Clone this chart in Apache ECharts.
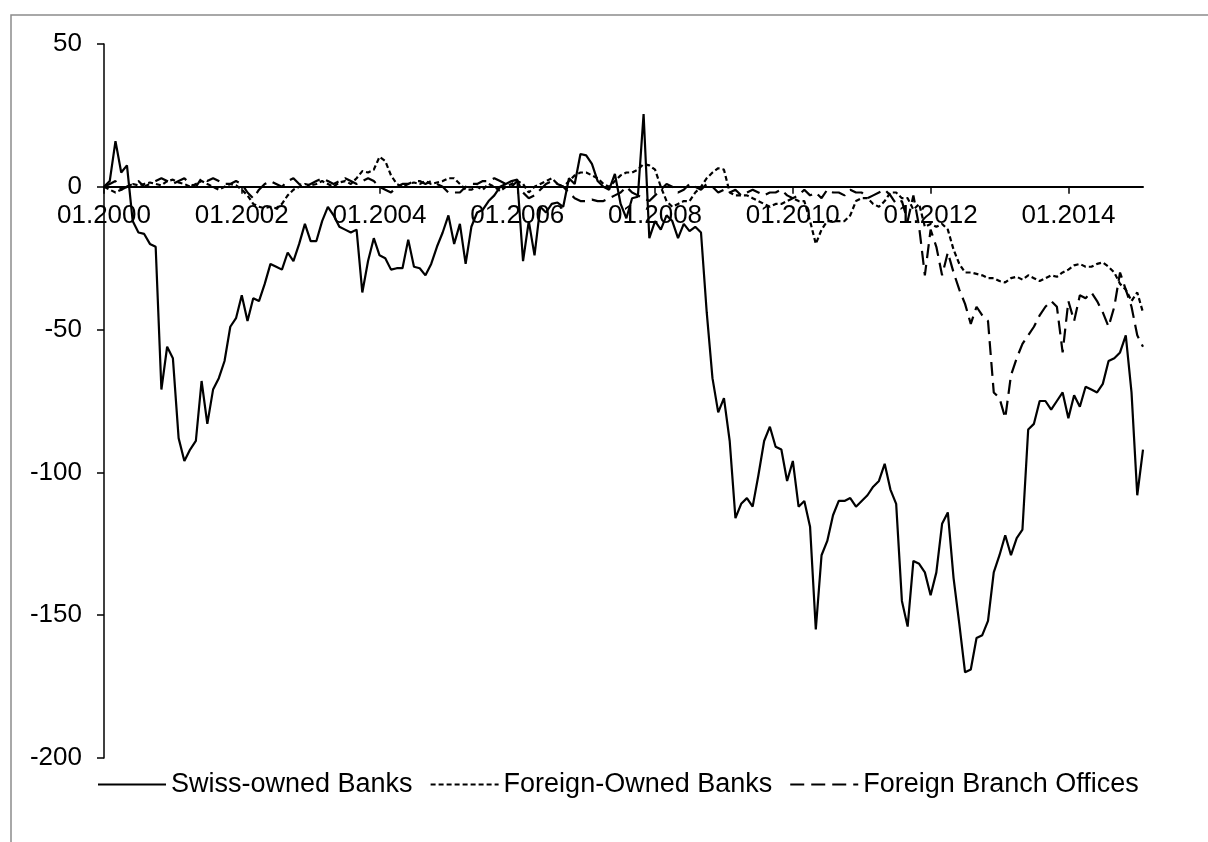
<!DOCTYPE html>
<html>
<head>
<meta charset="utf-8">
<script src="https://cdn.jsdelivr.net/npm/echarts/dist/echarts.min.js"></script>
<style>
html,body{margin:0;padding:0;background:#fff;}
#c{width:1208px;height:842px;}
</style>
</head>
<body>
<div id="c"></div>
<script>
// Monthly categories 01.2000 .. 02.2015
const startYear = 2000;
const months = [];
for (let i = 0; i < 182; i++) {
  const y = startYear + Math.floor(i / 12);
  const m = (i % 12) + 1;
  months.push((m < 10 ? '0' + m : '' + m) + '.' + y);
}

const swissOwned = [
  0, 2, 16, 5, 7.5, -12, -16, -16.5, -20, -21, -71, -56,
  -60, -88, -96, -92, -89, -68, -83, -71, -67, -61, -49, -46,
  -38, -47, -39, -40, -34, -27, -28, -29, -23, -26, -20, -13,
  -19, -19, -12, -7, -10, -14, -15, -16, -15, -37, -26, -18,
  -24, -25, -29, -28.5, -28.5, -18.5, -28, -28.5, -31, -27, -21, -16,
  -10, -20, -13, -27, -14, -9, -8, -5, -3, 0, 1, 2,
  2.5, -26, -12, -24, -7, -9, -6, -5.5, -7, 3, 1, 11.5,
  11, 8, 2, 0, -1, 4.5, -6, -11, -4, -3.5, 25.5, -18,
  -12, -15, -10, -12, -18, -13, -15.5, -14, -16, -44, -67, -79,
  -74, -89, -116, -111, -109, -112, -101, -89, -84, -91, -92, -103,
  -96, -112, -110, -119, -155, -129, -124, -115, -110, -110, -109, -112,
  -110, -108, -105, -103, -97, -106, -111, -145, -154, -131, -132, -135,
  -143, -135, -118, -114, -137, -153, -170, -169, -158, -157, -152, -135,
  -129, -122, -129, -123, -120, -85, -83, -75, -75, -78, -75, -72,
  -81, -73, -77, -70, -71, -72, -69, -61, -60, -58, -52, -72,
  -108, -92
];

const foreignOwned = [
  0, -1, -2, -1, 0, 1, 0.5, 1, 1.5, 1, 0.5, 2,
  2.5, 1.5, 1, 0, 1, 2, 1, 0, -1, 0, 1, 0.5,
  -1, -3, -6, -7, -7.5, -7, -7.5, -6, -3, -1, 0, 1,
  0.5, 1, 2, 1, 0, 1.5, 2, 1, 3, 5.5, 5, 6,
  10.5, 9, 4, 1, 0, 1, 1.5, 1, 2, 1, 1.5, 2,
  3, 3, 1, -1, -1, 0, -1, 1, 0, -1.5, 0, 1,
  2, 1, -2, 0, 1, 2, 3, 1, 0, 2, 4, 5,
  5, 4, 3, 1, 0, 2, 4, 5, 5, 6, 8, 7.5,
  6, 0, -5, -7, -6, -5, -5, -2, 0, 3, 5, 6.5,
  6, -2, -3, -3, -3, -4, -5, -6, -7, -6, -6, -5,
  -4, -5, -5, -12, -20, -15, -12, -12, -12, -12, -10, -5,
  -4, -4, -6, -7, -5, -2, -2, -4, -4, -8, -6, -14,
  -13, -14, -13, -15, -22, -27, -30, -30, -30.5, -31, -32, -32,
  -33, -33.5, -32, -31.5, -32.5, -31, -32, -33, -32, -31, -31.5, -30,
  -29, -27.5, -27, -28, -28, -27, -26.5, -28, -30, -34, -36, -40,
  -37, -44
];

const foreignBranch = [
  0, 1, 2, -1, 0, 1, 2, 0, 1, 2, 3, 2,
  1, 2, 3, 1, 0, 3, 2, 3, 2, 1, 1, 2,
  1, -2, -4, -1, 1, 2, 1, 0, 2, 3, 1, 0,
  1, 2, 3, 2, 1, 2, 3, 2, 1, 2, 3, 2,
  0, -1, -2, 0, 1, 1, 2, 2, 1, 2, 1, 0,
  -2, -2, -2, 0, 1, 1, 2, 2, 3, 2, 1, 0,
  2, -2, -4, -3, -1, 1, 2, 1, 0, -2, -4, -5,
  -5, -4.5, -5, -5, -4, -3, -2, 0, -2, -3, -4, -5,
  -3, -1, 1, 0, -2, -1, 1, 0, -1, 1, 0, -2,
  -1, -2, -1, -3, -2, -1, -2, -3, -2, -2, -1, -3,
  -4, -3, -1, -3, -2, -4, -1, -2, -2, -3, -1, -2,
  -2, -4, -3, -2, -1, -3, -6, -5, -12, -3, -14, -31,
  -15, -21, -31, -23, -30, -36, -41, -48, -42, -45, -47, -72,
  -74, -81, -66, -60, -55, -52, -49, -45, -42, -40, -42, -58,
  -40, -47, -38, -39, -37, -40, -44, -49, -42, -30, -36, -42,
  -52, -56
];

const seriesNames = ['Swiss-owned Banks', 'Foreign-Owned Banks', 'Foreign Branch Offices'];
const yTicks = { min: -200, max: 50, interval: 50 };

const FONT = "'Liberation Sans', Arial, sans-serif";
const GRID = { left: 104, right: 65, top: 44, bottom: 84 };
const plotH = 842 - GRID.top - GRID.bottom;
// place the category axis on the zero line
const zeroOffset = -plotH * (0 - yTicks.min) / (yTicks.max - yTicks.min);

const chart = echarts.init(document.getElementById('c'), null, { renderer: 'canvas' });

chart.setOption({
  animation: false,
  backgroundColor: '#ffffff',
  graphic: [{
    type: 'rect',
    shape: { x: 11, y: 15, width: 1220, height: 900 },
    style: { fill: 'none', stroke: '#8c8c8c', lineWidth: 1.5 },
    silent: true
  }],
  grid: Object.assign({ containLabel: false }, GRID),
  legend: {
    left: 92,
    top: 766,
    itemWidth: 68,
    itemHeight: 14,
    itemGap: 17,
    itemStyle: { opacity: 0 },
    textStyle: { fontSize: 27, fontFamily: FONT, color: '#000' },
    data: seriesNames
  },
  xAxis: {
    type: 'category',
    data: months,
    boundaryGap: false,
    offset: zeroOffset,
    axisLine: { onZero: false, lineStyle: { color: '#000', width: 2 } },
    axisTick: {
      show: true, length: 7,
      interval: (i) => i % 24 === 0,
      lineStyle: { color: '#000', width: 1.5 }
    },
    axisLabel: {
      interval: (i) => i % 24 === 0,
      fontSize: 26, fontFamily: FONT, color: '#000', margin: 16
    },
    splitLine: { show: false }
  },
  yAxis: {
    type: 'value',
    min: yTicks.min, max: yTicks.max, interval: yTicks.interval,
    axisLine: { show: true, lineStyle: { color: '#000', width: 1.5 } },
    axisTick: { show: true, length: 7, lineStyle: { color: '#000', width: 1.5 } },
    axisLabel: { fontSize: 26, fontFamily: FONT, color: '#000', margin: 22 },
    splitLine: { show: false }
  },
  series: [
    {
      name: seriesNames[0], type: 'line', data: swissOwned, symbol: 'none',
      lineStyle: { color: '#000', width: 2.2, type: 'solid' }, itemStyle: { color: '#000' }, z: 3
    },
    {
      name: seriesNames[1], type: 'line', data: foreignOwned, symbol: 'none',
      lineStyle: { color: '#000', width: 2.2, type: [5, 3] }, itemStyle: { color: '#000' }, z: 2
    },
    {
      name: seriesNames[2], type: 'line', data: foreignBranch, symbol: 'none',
      lineStyle: { color: '#000', width: 2.2, type: [14, 7] }, itemStyle: { color: '#000' }, z: 2
    }
  ]
});
</script>
</body>
</html>
